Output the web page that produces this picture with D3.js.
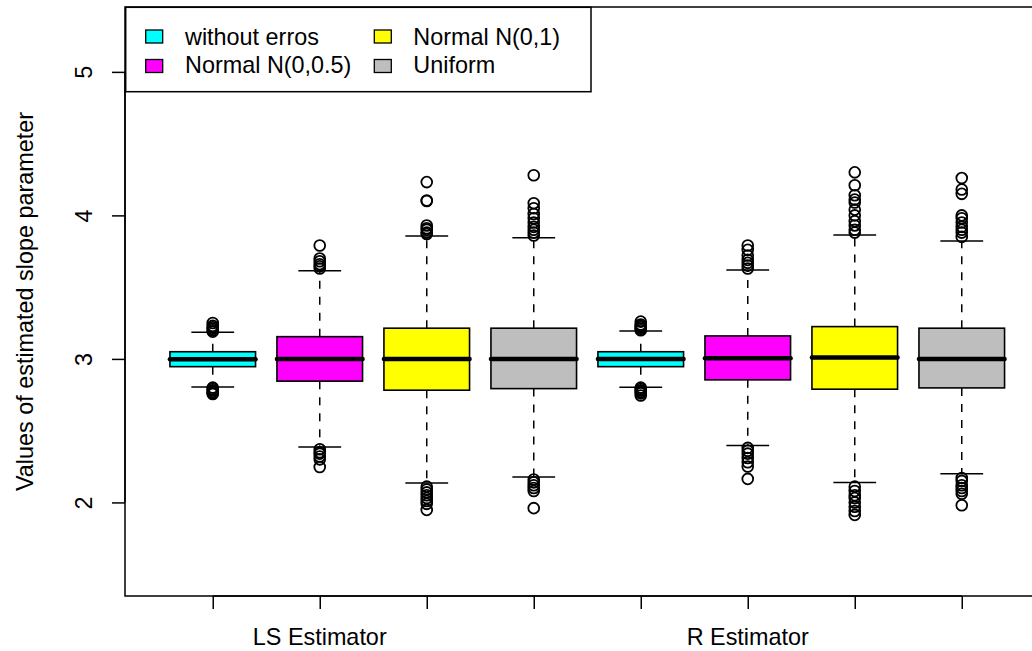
<!DOCTYPE html>
<html><head><meta charset="utf-8">
<script src="https://cdn.jsdelivr.net/npm/d3@7"></script>
<style>
html,body{margin:0;padding:0;background:#fff;}
svg{display:block;font-family:"Liberation Sans",Arial,sans-serif;}
</style></head>
<body><svg id="c" width="1032" height="651"></svg>
<script>
// ---- data ----
const groups = ["LS Estimator", "R Estimator"];
const groupPos = [2, 6];
const series = ["without erros", "Normal N(0,0.5)", "Normal N(0,1)", "Uniform"];
const colors = ["#00FFFF", "#FF00FF", "#FFFF00", "#BEBEBE"];
const positions = [1, 2, 3, 4, 5, 6, 7, 8];
const boxSeries = [0, 1, 2, 3, 0, 1, 2, 3];
const q1 = [2.946, 2.845, 2.782, 2.793, 2.946, 2.854, 2.789, 2.798];
const med = [2.998, 3.0, 3.0, 3.0, 3.0, 3.005, 3.009, 3.0];
const q3 = [3.050, 3.155, 3.214, 3.214, 3.050, 3.160, 3.225, 3.214];
const whiskLo = [2.805, 2.387, 2.136, 2.178, 2.803, 2.396, 2.138, 2.200];
const whiskHi = [3.186, 3.615, 3.857, 3.845, 3.195, 3.620, 3.864, 3.822];
const outliers = [
  [3.19, 3.20, 3.21, 3.22, 3.23, 3.25, 2.80, 2.79, 2.78, 2.77, 2.76, 2.755],
  [3.79, 3.70, 3.68, 3.66, 3.645, 3.63, 2.37, 2.35, 2.34, 2.32, 2.30, 2.247],
  [4.232, 4.104, 4.10, 3.93, 3.91, 3.90, 3.88, 3.87, 2.11, 2.09, 2.07, 2.05, 2.03, 2.01, 1.99, 1.948],
  [4.28, 4.085, 4.05, 4.01, 3.98, 3.95, 3.92, 3.90, 3.88, 3.86, 2.16, 2.14, 2.12, 2.10, 2.08, 1.96],
  [3.26, 3.24, 3.23, 3.22, 3.21, 3.20, 2.80, 2.79, 2.78, 2.77, 2.76, 2.745],
  [3.79, 3.76, 3.72, 3.69, 3.67, 3.65, 3.63, 2.38, 2.36, 2.34, 2.31, 2.28, 2.25, 2.164],
  [4.30, 4.21, 4.14, 4.11, 4.09, 4.04, 4.00, 3.96, 3.93, 3.90, 3.88, 2.11, 2.08, 2.05, 2.03, 2.00, 1.97, 1.94, 1.913],
  [4.26, 4.18, 4.15, 4.00, 3.98, 3.95, 3.92, 3.90, 3.88, 3.85, 2.17, 2.15, 2.12, 2.10, 2.08, 2.06, 1.98]
];
const yTicks = [2, 3, 4, 5];
const yTitle = "Values of estimated slope parameter";

// ---- scales ----
const svg = d3.select("#c");
const x = d3.scaleLinear().domain([0.18, 8.82]).range([125, 1049.5]);
const y = d3.scaleLinear().domain([1.348, 5.452]).range([596, 7]);
const step = x(2) - x(1);
const boxW = step * 0.8;
const capW = boxW * 0.5;
const FS = 23.4;

const g = svg.append("g");
positions.forEach((p, i) => {
  const cx = x(p);
  const bg = g.append("g");
  bg.append("line").attr("x1", cx).attr("x2", cx).attr("y1", y(q3[i])).attr("y2", y(whiskHi[i]))
    .attr("stroke", "#000").attr("stroke-width", 1.5).attr("stroke-dasharray", "8,8");
  bg.append("line").attr("x1", cx).attr("x2", cx).attr("y1", y(q1[i])).attr("y2", y(whiskLo[i]))
    .attr("stroke", "#000").attr("stroke-width", 1.5).attr("stroke-dasharray", "8,8");
  [whiskHi[i], whiskLo[i]].forEach(v => {
    bg.append("line").attr("x1", cx - capW / 2).attr("x2", cx + capW / 2).attr("y1", y(v)).attr("y2", y(v))
      .attr("stroke", "#000").attr("stroke-width", 1.5);
  });
  bg.append("rect").attr("x", cx - boxW / 2).attr("width", boxW)
    .attr("y", y(q3[i])).attr("height", y(q1[i]) - y(q3[i]))
    .attr("fill", colors[boxSeries[i]]).attr("stroke", "#000").attr("stroke-width", 1.6);
  bg.append("line").attr("x1", cx - boxW / 2).attr("x2", cx + boxW / 2).attr("y1", y(med[i])).attr("y2", y(med[i]))
    .attr("stroke", "#000").attr("stroke-width", 4.5).attr("stroke-linecap", "round");
  bg.selectAll("circle").data(outliers[i]).join("circle")
    .attr("cx", cx).attr("cy", d => y(d)).attr("r", 5.4)
    .attr("fill", "none").attr("stroke", "#000").attr("stroke-width", 1.8);
});

// frame
svg.append("rect").attr("x", 125).attr("y", 7).attr("width", 1049.5 - 125).attr("height", 596 - 7)
  .attr("fill", "none").attr("stroke", "#000").attr("stroke-width", 1.5);

// y axis
const ya = svg.append("g").attr("transform", "translate(125,0)")
  .call(d3.axisLeft(y).tickValues(yTicks).tickSize(13).tickFormat(d3.format("d")));
ya.select(".domain").attr("d", `M0,${y(2)}V${y(5)}`).attr("stroke-width", 1.5);
ya.selectAll(".tick line").attr("stroke-width", 1.5);
ya.selectAll(".tick text").attr("transform", "rotate(-90)").attr("x", 0).attr("y", -33).attr("dy", 0)
  .attr("text-anchor", "middle").style("font-size", FS + "px").style("font-family", "Liberation Sans, Arial, sans-serif").attr("fill", "#000");

// x axis
const xa = svg.append("g").attr("transform", "translate(0,596)")
  .call(d3.axisBottom(x).tickValues(positions).tickSize(13).tickFormat(""));
xa.select(".domain").attr("d", `M${x(1)},0H${x(8)}`).attr("stroke-width", 1.5);
xa.selectAll(".tick line").attr("stroke-width", 1.5);
svg.selectAll(".xlab").data(groups).join("text").attr("class", "xlab")
  .attr("x", (d, i) => x(groupPos[i])).attr("y", 645).attr("text-anchor", "middle")
  .style("font-size", FS + "px").text(d => d);

// y title
svg.append("text").attr("transform", `translate(33,${(7 + 596) / 2}) rotate(-90)`)
  .attr("text-anchor", "middle").style("font-size", FS + "px").text(yTitle);

// legend
const lg = svg.append("g");
lg.append("rect").attr("x", 125.7).attr("y", 7.3).attr("width", 591 - 125.7).attr("height", 91.7 - 7.3)
  .attr("fill", "#fff").attr("stroke", "#000").attr("stroke-width", 1.5);
const colSwX = [145.7, 374.3];
const colTxX = [185, 413.3];
const rowSwY = [30, 59.5];
const rowTxY = [44.5, 73];
series.forEach((s, i) => {
  const col = Math.floor(i / 2), row = i % 2;
  lg.append("rect").attr("x", colSwX[col]).attr("y", rowSwY[row]).attr("width", 17).attr("height", 13)
    .attr("fill", colors[i]).attr("stroke", "#000").attr("stroke-width", 1.3);
  lg.append("text").attr("x", colTxX[col]).attr("y", rowTxY[row]).style("font-size", FS + "px").text(s);
});
</script></body></html>
